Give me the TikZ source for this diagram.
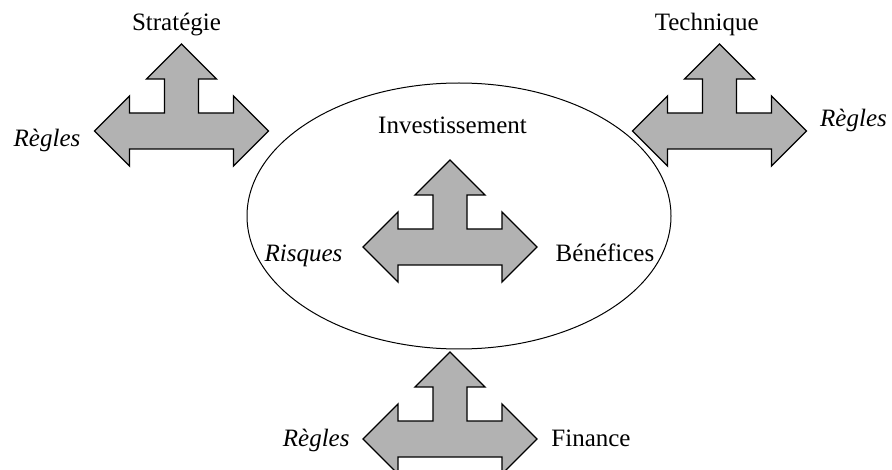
\documentclass[tikz,border=0pt]{standalone}
\usepackage{fontspec}
\setmainfont{Liberation Serif}
\usetikzlibrary{shapes.geometric}
\tikzset{
  arrowfill/.style={draw=black, fill=black!30, line width=1.3pt, line join=miter},
  tarrow/.pic={
    \path[arrowfill] (-87,0) -- (-52,-35) -- (-52,-18) -- (-17,-18) -- (-17,-52) -- (-35,-52)
      -- (0,-87) -- (35,-52) -- (17,-52) -- (17,-18) -- (52,-18) -- (52,-35) -- (87,0)
      -- (52,35) -- (52,18) -- (-52,18) -- (-52,35) -- cycle;
  },
  lbl/.style={anchor=base, inner sep=0pt, font=\fontsize{25}{30}\selectfont},
  ilbl/.style={lbl, font=\fontsize{25}{30}\selectfont\itshape},
}
\begin{document}
\begin{tikzpicture}[x=1pt, y=-1pt]
\useasboundingbox (0,0) rectangle (892,470);
\node (inv) [ellipse, draw, line width=1pt, minimum width=424pt, minimum height=266pt, inner sep=0pt] at (459,216) {};
\pic (astrat) at (181.5,131) {tarrow};
\pic (atech) at (719.5,131) {tarrow};
\pic (ainv) at (450,247) {tarrow};
\pic (afin) at (450,439) {tarrow};
\node (strat) [lbl] at (176.5,31) {Stratégie};
\node (regl1) [ilbl] at (47,146.7) {Règles};
\node (tech) [lbl] at (706.7,30.7) {Technique};
\node (regl2) [ilbl] at (853.5,126.7) {Règles};
\node (invt) [lbl] at (452.5,134) {Investissement};
\node (risq) [ilbl] at (303.5,261.7) {Risques};
\node (bene) [lbl] at (605,261.7) {Bénéfices};
\node (regl3) [ilbl] at (316.2,446.7) {Règles};
\node (fin) [lbl] at (591,446.7) {Finance};
\end{tikzpicture}
\end{document}
